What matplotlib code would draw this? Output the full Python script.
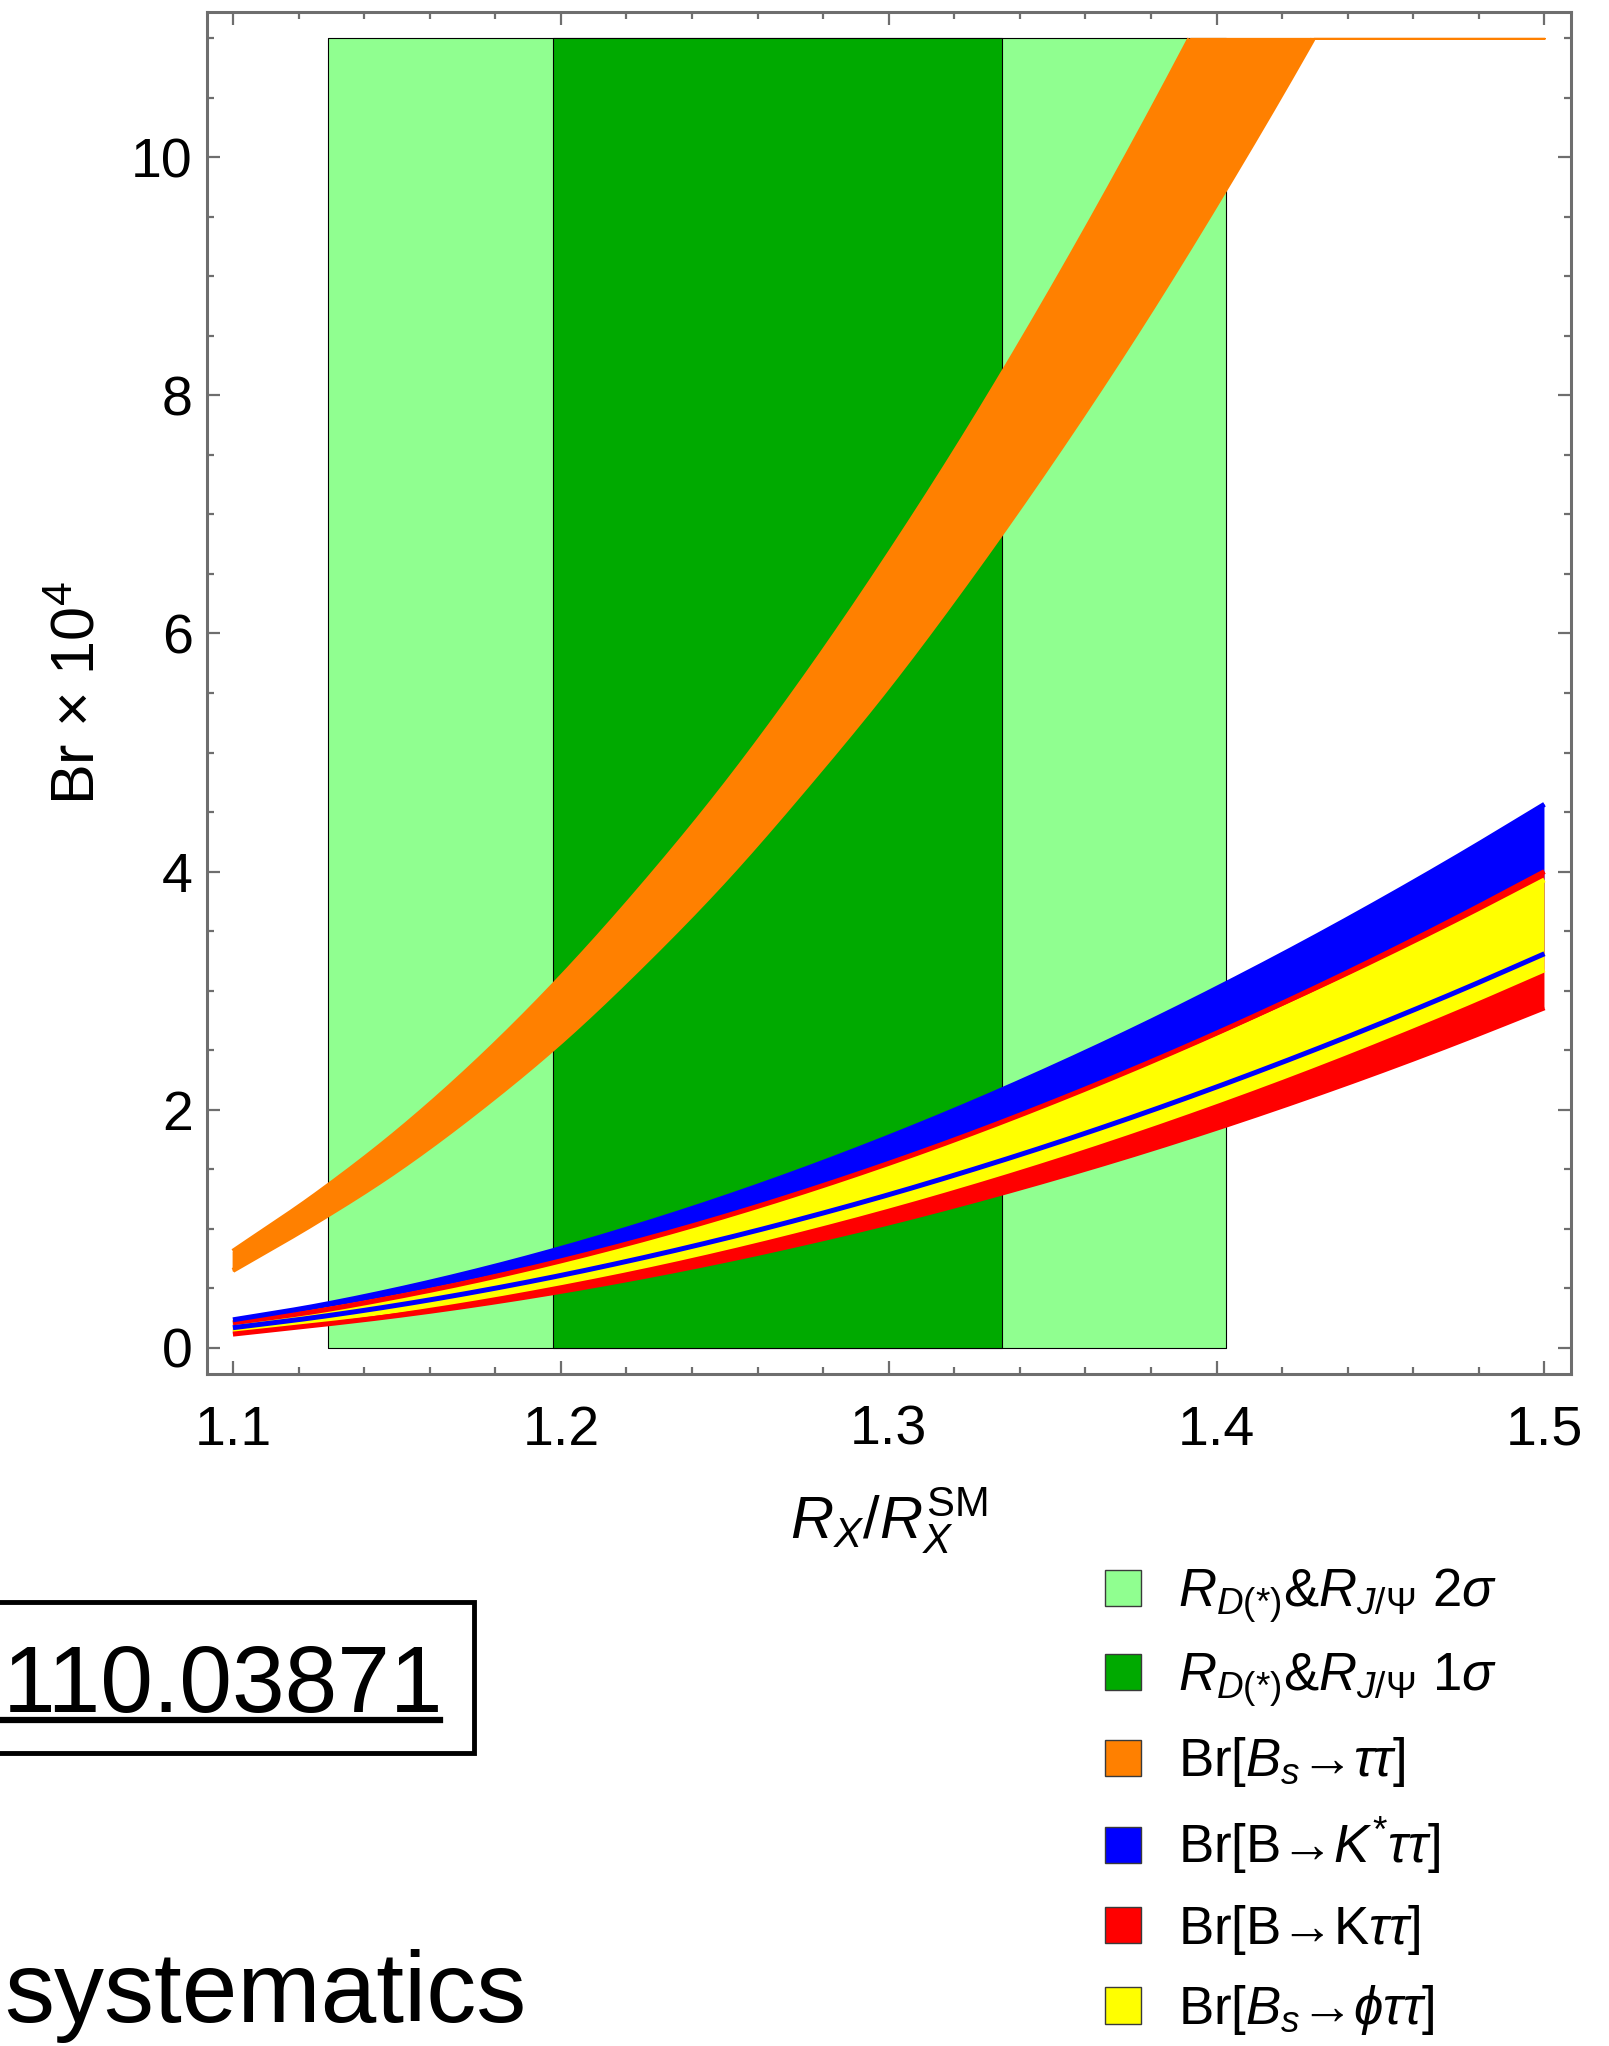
import numpy as np
import matplotlib
matplotlib.use("Agg")
import matplotlib.pyplot as plt
from matplotlib.patches import Patch, Rectangle
from matplotlib.lines import Line2D
from matplotlib.ticker import MultipleLocator, FormatStrFormatter

plt.rcParams.update({
    "font.family": ["Liberation Sans", "DejaVu Sans"],
    "mathtext.fontset": "custom",
    "mathtext.rm": "Liberation Sans",
    "mathtext.it": "Liberation Sans:italic",
    "mathtext.bf": "Liberation Sans:bold",
    "mathtext.sf": "Liberation Sans",
})

# ---- data -------------------------------------------------------------
r_ratio = [1.100, 1.125, 1.150, 1.175, 1.200, 1.225, 1.250, 1.275, 1.300,
           1.325, 1.350, 1.375, 1.400, 1.425, 1.450, 1.475, 1.500]

# Br x 10^4 bands (upper / lower edge)
bs_tautau_hi = [0.81, 1.28, 1.81, 2.42, 3.11, 3.88, 4.72, 5.65, 6.66,
                7.74, 8.90, 10.13, 11.43, 12.81, 14.27, 15.79, 17.39]
bs_tautau_lo = [0.65, 1.05, 1.49, 2.00, 2.57, 3.22, 3.93, 4.72, 5.56,
                6.48, 7.46, 8.50, 9.61, 10.78, 12.02, 13.32, 14.68]
kstar_hi = [0.235, 0.349, 0.489, 0.651, 0.834, 1.038, 1.262, 1.506, 1.770,
            2.053, 2.356, 2.677, 3.018, 3.377, 3.755, 4.151, 4.565]
kstar_lo = [0.169, 0.255, 0.357, 0.475, 0.608, 0.756, 0.918, 1.095, 1.286,
            1.492, 1.711, 1.944, 2.191, 2.451, 2.724, 3.010, 3.310]
k_hi = [0.210, 0.305, 0.428, 0.569, 0.730, 0.908, 1.104, 1.318, 1.549,
        1.797, 2.063, 2.345, 2.643, 2.958, 3.289, 3.637, 4.000]
k_lo = [0.115, 0.189, 0.270, 0.365, 0.474, 0.597, 0.734, 0.885, 1.049,
        1.228, 1.420, 1.625, 1.844, 2.077, 2.323, 2.583, 2.856]
phi_hi = [0.205, 0.302, 0.424, 0.564, 0.722, 0.897, 1.090, 1.300, 1.527,
          1.771, 2.032, 2.308, 2.601, 2.910, 3.234, 3.574, 3.930]
phi_lo = [0.140, 0.222, 0.315, 0.423, 0.547, 0.685, 0.839, 1.008, 1.191,
          1.389, 1.601, 1.828, 2.069, 2.324, 2.594, 2.877, 3.175]

# allowed R_X / R_X^SM ranges
sigma2_range = [1.129, 1.403]
sigma1_range = [1.1976, 1.3347]
br_cap = 11.0          # upper end of the plotted Br range

x_ticks = [1.1, 1.2, 1.3, 1.4, 1.5]
y_ticks = [0, 2, 4, 6, 8, 10]

legend_labels = [
    r"$R_{D(*)}$&$R_{J/\Psi}$ 2$\sigma$",
    r"$R_{D(*)}$&$R_{J/\Psi}$ 1$\sigma$",
    r"Br[$B_s$→$\tau\tau$]",
    r"Br[B→$K^{*}\tau\tau$]",
    r"Br[B→K$\tau\tau$]",
    r"Br[$B_s$→$\phi\tau\tau$]",
]

# ---- style ------------------------------------------------------------
C_LIGHT = "#90FF90"
C_DARK = "#00AA00"
C_ORANGE = "#FF8000"
C_BLUE = "#0000FF"
C_RED = "#FF0000"
C_YELLOW = "#FFFF00"
FRAME = "#6e6e6e"
EDGE_LW = 3.6

W, H = 1609, 2046
fig = plt.figure(figsize=(W / 100, H / 100), dpi=100)
ax = fig.add_axes([206.7 / W, 1 - 1374 / H, (1570.7 - 206.7) / W, (1374 - 12) / H])

# experimental ranges
ax.fill_between(sigma2_range, 0, br_cap, facecolor=C_LIGHT, edgecolor="black",
                linewidth=0.8, zorder=1)
ax.fill_between(sigma1_range, 0, br_cap, facecolor=C_DARK, edgecolor="black",
                linewidth=0.8, zorder=1.1)

x = np.asarray(r_ratio)
xf = np.linspace(x[0], x[-1], 2001)


def smooth(vals):
    """Cubic Hermite curve through the tabulated points (central-difference slopes)."""
    y = np.asarray(vals, dtype=float)
    m = np.empty_like(y)
    m[1:-1] = (y[2:] - y[:-2]) / (x[2:] - x[:-2])
    m[0] = (y[1] - y[0]) / (x[1] - x[0])
    m[-1] = (y[-1] - y[-2]) / (x[-1] - x[-2])
    i = np.clip(np.searchsorted(x, xf, side="right") - 1, 0, len(x) - 2)
    h = x[i + 1] - x[i]
    t = (xf - x[i]) / h
    h00 = 2 * t**3 - 3 * t**2 + 1
    h10 = t**3 - 2 * t**2 + t
    h01 = -2 * t**3 + 3 * t**2
    h11 = t**3 - t**2
    return h00 * y[i] + h10 * h * m[i] + h01 * y[i + 1] + h11 * h * m[i + 1]


def visible(vals):
    v = smooth(vals)
    return np.where(v <= br_cap, v, np.nan)


# B_s -> tau tau band, cut at the top of the plotted range
o_lo = np.minimum(smooth(bs_tautau_lo), br_cap)
o_hi = np.minimum(smooth(bs_tautau_hi), br_cap)
ax.fill_between(xf, o_lo, o_hi, facecolor=C_ORANGE, edgecolor=C_ORANGE,
                linewidth=1.2, zorder=2)

bands = [(kstar_lo, kstar_hi, C_BLUE, 3), (k_lo, k_hi, C_RED, 4),
         (phi_lo, phi_hi, C_YELLOW, 5)]
for lo, hi, col, z in bands:
    ax.fill_between(xf, smooth(lo), smooth(hi), facecolor=col, linewidth=0, zorder=z)

# band edges
edge_order = [(bs_tautau_lo, bs_tautau_hi, C_ORANGE, 6),
              (phi_lo, phi_hi, C_YELLOW, 7),
              (k_lo, k_hi, C_RED, 8),
              (kstar_lo, kstar_hi, C_BLUE, 9)]
for lo, hi, col, z in edge_order:
    for v in (lo, hi):
        ax.plot(xf, visible(v), color=col, lw=EDGE_LW, solid_capstyle="butt", zorder=z)

# ---- axes -------------------------------------------------------------
ax.set_xlim(1.092, 1.508)
ax.set_ylim(-0.22, 11.22)
ax.set_xticks(x_ticks)
ax.set_yticks(y_ticks)
ax.xaxis.set_major_formatter(FormatStrFormatter("%.1f"))
ax.xaxis.set_minor_locator(MultipleLocator(0.02))
ax.yaxis.set_minor_locator(MultipleLocator(0.5))
for s in ax.spines.values():
    s.set_color(FRAME)
    s.set_linewidth(2.2)
ax.tick_params(which="both", direction="in", top=True, right=True, color=FRAME,
               width=1.6, labelsize=40, labelcolor="black")
ax.tick_params(which="major", length=9.5)
ax.tick_params(which="minor", length=5)
ax.tick_params(axis="x", pad=22)
ax.tick_params(axis="y", pad=10)

ax.set_xlabel(r"$R_X/R_X^{\mathrm{SM}}$", fontsize=43)
ax.xaxis.set_label_coords(0.5, -0.082)
ax.set_ylabel("Br × 10$^4$", fontsize=44)
ax.yaxis.set_label_coords(-0.073, 0.5)

# ---- legend -----------------------------------------------------------
handles = [Patch(facecolor=c, edgecolor="#3a3a3a", linewidth=1.0)
           for c in (C_LIGHT, C_DARK, C_ORANGE, C_BLUE, C_RED, C_YELLOW)]
fig.legend(handles, legend_labels, loc="upper left",
           bbox_to_anchor=(1105 / W, 1 - 1566 / H), bbox_transform=fig.transFigure,
           frameon=False, fontsize=38, handlelength=0.68, handleheight=0.68,
           handletextpad=0.7, labelspacing=0.5, borderpad=0, borderaxespad=0)

# ---- slide text around the plot ---------------------------------------
fig.text(3 / W, 1 - 1712 / H, "110.03871", ha="left", va="baseline",
         fontsize=68)
fig.add_artist(Line2D([0, 440 / W], [1 - 1720 / H] * 2, color="black", lw=4.5,
                      transform=fig.transFigure))
fig.add_artist(Rectangle((-10 / W, 1 - 1753 / H), 484 / W, 151 / H, fill=False,
                         edgecolor="black", lw=3.5, transform=fig.transFigure))
fig.text(4 / W, 1 - 2022 / H, "systematics", ha="left", va="baseline",
         fontsize=72)

fig.savefig("out.png", dpi=100, facecolor="white")
